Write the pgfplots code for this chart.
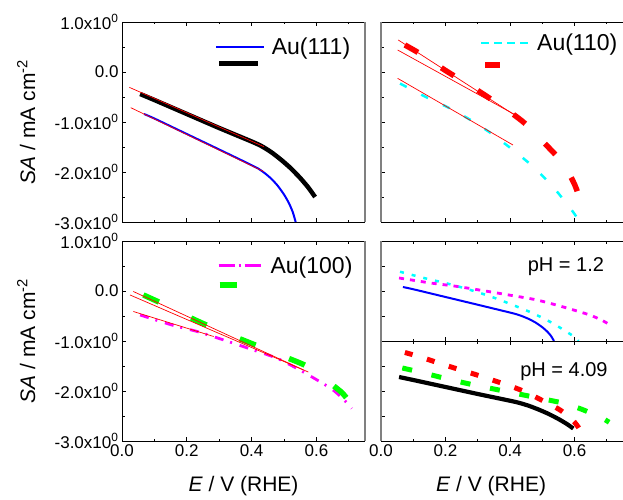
\documentclass[border=0pt]{standalone}
\usepackage{pgfplots}
\pgfplotsset{compat=1.18}
\usepackage{pgfplotstable}
\usepackage{fontspec}
\setmainfont{Liberation Sans}

\definecolor{framegray}{RGB}{128,128,128}
\definecolor{aucyan}{RGB}{0,255,255}
\definecolor{aumagenta}{RGB}{255,0,255}
\definecolor{augreen}{RGB}{0,255,0}
\definecolor{aured}{RGB}{255,0,0}
\definecolor{aublue}{RGB}{0,0,255}

% Au(111), pH 1.2
\pgfplotstableread{
E SA
0.068 -0.84
0.100 -0.93
0.200 -1.24
0.300 -1.55
0.380 -1.80
0.420 -1.93
0.440 -2.02
0.460 -2.13
0.480 -2.27
0.500 -2.45
0.515 -2.62
0.527 -2.80
0.536 -3.00
}\auAlow
% Au(111), pH 4.09
\pgfplotstableread{
E SA
0.056 -0.44
0.100 -0.56
0.200 -0.84
0.300 -1.12
0.400 -1.39
0.430 -1.48
0.460 -1.60
0.490 -1.75
0.520 -1.92
0.550 -2.12
0.575 -2.31
0.596 -2.50
}\auAhigh
% Au(110), pH 1.2
\pgfplotstableread{
E SA
0.059 -0.23
0.136 -0.49
0.208 -0.71
0.275 -0.95
0.342 -1.23
0.409 -1.56
0.471 -1.89
0.528 -2.26
0.579 -2.66
0.605 -2.89
0.612 -3.00
}\auBlow
% Au(110), pH 4.09
\pgfplotstableread{
E SA
0.074 0.54
0.120 0.37
0.200 0.03
0.300 -0.37
0.400 -0.80
0.450 -1.05
0.500 -1.38
0.550 -1.72
0.580 -2.00
0.600 -2.25
0.613 -2.48
0.618 -2.70
}\auBhigh
% Au(100), pH 1.2
\pgfplotstableread{
E SA
0.056 -0.48
0.154 -0.68
0.232 -0.81
0.314 -0.98
0.392 -1.15
0.480 -1.35
0.557 -1.61
0.645 -1.95
0.686 -2.18
0.709 -2.35
}\auClow
% Au(100), pH 4.09
\pgfplotstableread{
E SA
0.066 -0.08
0.120 -0.24
0.200 -0.50
0.250 -0.65
0.300 -0.79
0.400 -1.05
0.500 -1.31
0.570 -1.50
0.620 -1.72
0.650 -1.88
0.680 -2.04
0.707 -2.25
}\auChigh

\pgfplotsset{
  panel/.style={
    scale only axis, width=243pt, height=200pt,
    xmin=0, xmax=0.75, ymin=-3, ymax=1,
    xtick={0,0.2,0.4,0.6}, minor xtick={0.1,0.3,0.5,0.7},
    ytick={-3,-2,-1,0,1}, minor ytick={-2.5,-1.5,-0.5,0.5},
    tick align=inside, major tick length=4pt, minor tick length=2.5pt,
    axis x line*=box, axis y line*=left,
    axis line style={-, line width=0.8pt, black},
    x axis line style={-}, y axis line style={-},
    every tick/.style={black, line width=0.8pt},
    tick label style={font=\fontsize{17}{17}\selectfont},
    label style={font=\fontsize{21}{21}\selectfont},
    legend style={draw=none, fill=none, font=\fontsize{23}{23}\selectfont,
      anchor=north west, inner sep=0pt,
      nodes={inner sep=1.5pt},
      /tikz/every odd column/.append style={column sep=5pt}},
    legend cell align=left,
    legend image code/.code={\draw[##1] (0pt,0pt) -- (48pt,0pt);},
  },
  leftpanel/.style={
    panel,
    yticklabels={-3.0x10\textsuperscript{0},-2.0x10\textsuperscript{0},-1.0x10\textsuperscript{0},0.0,1.0x10\textsuperscript{0}},
    ylabel={\textit{SA} / mA cm\textsuperscript{-2}},
    ylabel style={at={(rel axis cs:-0.358,0.5)}, anchor=base},
    extra description/.code={\draw[framegray, line width=1.8pt]
      (axis description cs:1,0) -- (axis description cs:1,1);},
  },
  rightpanel/.style={
    panel, width=242pt,
    yticklabels={},
    y axis line style={-, framegray, line width=1.8pt},
  },
  fitline/.style={aured, line width=0.7pt},
  curve/.style={smooth, tension=0.4, line join=round},
  % legend samples of individual series
  legblack/.style={legend image code/.code={\draw[##1] (3pt,0pt) -- (42pt,0pt);}},
  legcyan/.style={legend image code/.code={\draw[##1, dash pattern=on 8pt off 5pt] (0pt,0pt) -- (48pt,0pt);}},
  legred/.style={legend image code/.code={\draw[##1] (4pt,0pt) -- (19pt,0pt);}},
  legmagenta/.style={legend image code/.code={\draw[##1, dash pattern=on 16pt off 4pt on 2pt off 4pt] (0pt,0pt) -- (44pt,0pt);}},
  leggreen/.style={legend image code/.code={\draw[##1] (1pt,0pt) -- (19pt,0pt);}},
}

\begin{document}
\begin{tikzpicture}
\useasboundingbox (0pt,0pt) rectangle (623pt,499pt);

% Au(111)
\begin{axis}[leftpanel, at={(122pt,277pt)}, anchor=south west,
  xticklabels={},
  legend style={at={(rel axis cs:0.383,0.93)}, row sep=4pt}]
  \addplot[aublue, line width=2pt, curve] table {\auAlow};
  \addlegendentry{Au(111)}
  \addplot[black, line width=4.5pt, curve, legblack] table {\auAhigh};
  \addlegendentry{}
  \addplot[fitline, forget plot] coordinates {(0.0227,-0.307) (0.438,-1.493)};
  \addplot[fitline, forget plot] coordinates {(0.0269,-0.713) (0.438,-1.993)};
\end{axis}

% Au(110)
\begin{axis}[rightpanel, at={(381pt,277pt)}, anchor=south west,
  xticklabels={},
  legend style={at={(rel axis cs:0.409,0.95)}, row sep=9pt}]
  \addplot[aucyan, line width=2.5pt, dash pattern=on 7.5pt off 16.5pt, curve, legcyan] table {\auBlow};
  \addlegendentry{Au(110)}
  \addplot[aured, line width=5.5pt, dash pattern=on 15pt off 28pt, curve, legred] table {\auBhigh};
  \addlegendentry{}
  \addplot[fitline, forget plot] coordinates {(0.0535,0.64) (0.414,-0.86)};
  \addplot[fitline, forget plot] coordinates {(0.0516,0.44) (0.414,-0.85)};
  \addplot[fitline, forget plot] coordinates {(0.0516,-0.127) (0.409,-1.46)};
\end{axis}

% Au(100)
\begin{axis}[leftpanel, at={(122pt,58pt)}, anchor=south west,
  xticklabels={0.0,0.2,0.4,0.6},
  xlabel={\textit{E} / V (RHE)},
  xlabel style={at={(rel axis cs:0.5,-0.2535)}, anchor=base},
  legend style={at={(rel axis cs:0.39,0.93)}, row sep=6pt}]
  \addplot[aumagenta, line width=2.8pt, dash pattern=on 9pt off 7pt on 2pt off 8pt, curve, legmagenta] table {\auClow};
  \addlegendentry{Au(100)}
  \addplot[augreen, line width=5.5pt, dash pattern=on 17pt off 36pt, curve, leggreen] table {\auChigh};
  \addlegendentry{}
  \addplot[fitline, forget plot] coordinates {(0.035,-0.01) (0.56,-1.58)};
  \addplot[fitline, forget plot] coordinates {(0.025,-0.08) (0.575,-1.62)};
  \addplot[fitline, forget plot] coordinates {(0.035,-0.41) (0.283,-0.91)};
\end{axis}

% pH 1.2 comparison
\begin{axis}[rightpanel, height=100pt, at={(381pt,158pt)}, anchor=south west,
  xticklabels={}, minor ytick={}]
  \addplot[aublue, line width=2pt, curve] table {\auAlow};
  \addplot[aucyan, line width=2.5pt, dash pattern=on 4pt off 8pt, curve] table {\auBlow};
  \addplot[aumagenta, line width=2.8pt, dash pattern=on 5pt off 6pt, curve] table {\auClow};
  \node[font=\fontsize{20}{20}\selectfont] at (rel axis cs:0.764,0.74) {pH = 1.2};
\end{axis}

% pH 4.09 comparison
\begin{axis}[rightpanel, height=100pt, at={(381pt,58pt)}, anchor=south west,
  xticklabels={0.0,0.2,0.4,0.6}, minor ytick={},
  xlabel={\textit{E} / V (RHE)},
  xlabel style={at={(rel axis cs:0.455,-0.507)}, anchor=base}]
  \addplot[black, line width=4.2pt, curve] table {\auAhigh};
  \addplot[aured, line width=5pt, dash pattern=on 8pt off 15pt, curve] table {\auBhigh};
  \addplot[augreen, line width=5pt, dash pattern=on 10pt off 20pt, curve] table {\auChigh};
  \node[font=\fontsize{20}{20}\selectfont] at (rel axis cs:0.756,0.69) {pH = 4.09};
\end{axis}
\end{tikzpicture}
\end{document}
